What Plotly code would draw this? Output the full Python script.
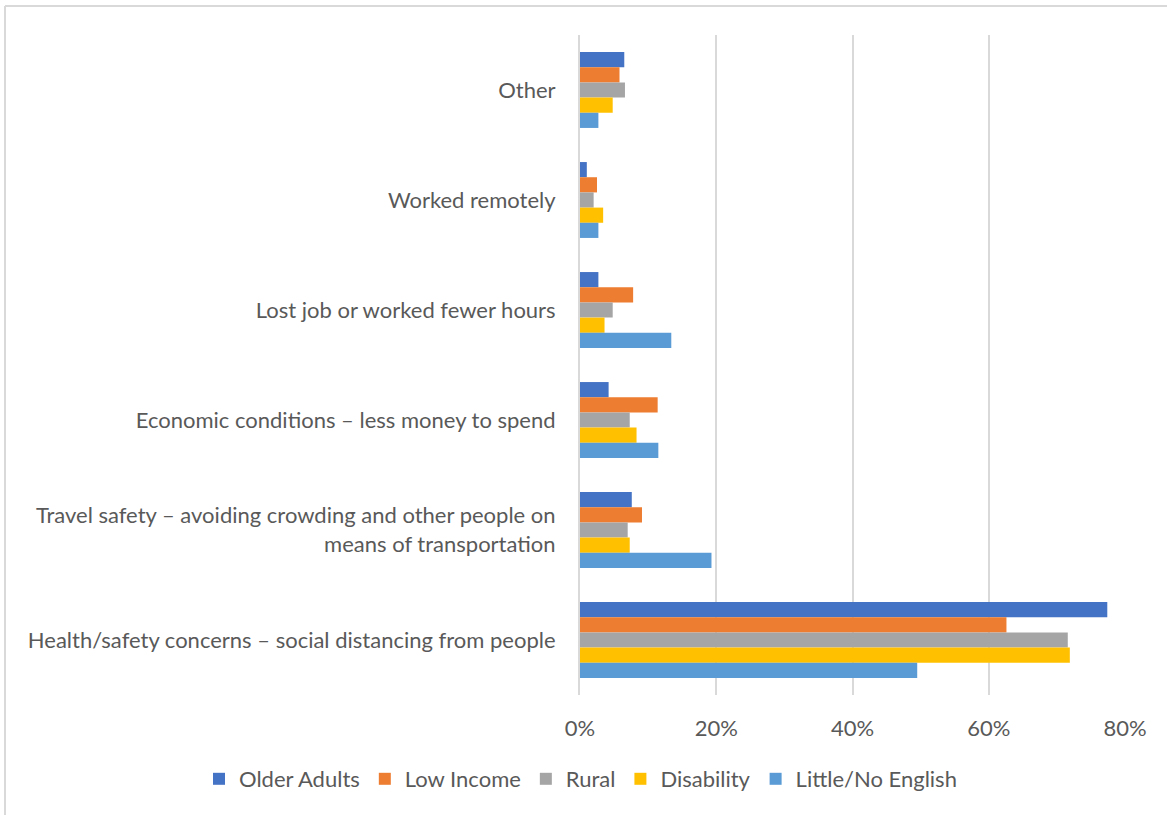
import plotly.graph_objects as go

# Reasons for travelling less, by survey group (share of respondents)
categories = [
    "Other",
    "Worked remotely",
    "Lost job or worked fewer hours",
    "Economic conditions – less money to spend",
    "Travel safety – avoiding crowding and other people on<br>means of transportation",
    "Health/safety concerns – social distancing from people",
]

older_adults = [0.065, 0.010, 0.027, 0.042, 0.076, 0.774]
low_income = [0.058, 0.025, 0.078, 0.114, 0.091, 0.626]
rural = [0.066, 0.020, 0.048, 0.073, 0.070, 0.716]
disability = [0.048, 0.034, 0.036, 0.083, 0.073, 0.719]
little_no_english = [0.027, 0.027, 0.134, 0.115, 0.193, 0.495]

series = [
    ("Older Adults", older_adults, "#4472C4"),
    ("Low Income", low_income, "#ED7D31"),
    ("Rural", rural, "#A5A5A5"),
    ("Disability", disability, "#FFC000"),
    ("Little/No English", little_no_english, "#5B9BD5"),
]

tick_vals = [0, 0.2, 0.4, 0.6, 0.8]
tick_text = ["0%", "20%", "40%", "60%", "80%"]

W, H = 1167, 816
ML, MR, MT, MB = 580, 42, 35, 121
FONT = "Lato"
FS = 22
TEXT = "#595959"
GRID = "#D9D9D9"

fig = go.Figure()
for name, vals, color in series:
    fig.add_trace(go.Bar(
        name=name,
        y=categories,
        x=vals,
        orientation="h",
        marker=dict(color=color, line=dict(width=0)),
    ))

# outer chart frame, positioned in paper units from pixel edges
pw, ph = W - ML - MR, H - MT - MB
def px_x(p):
    return (p - ML) / pw
def px_y(p):
    return 1 - (p - MT) / ph

fig.add_shape(type="line", xref="paper", yref="paper",
              x0=px_x(5), x1=px_x(1167), y0=px_y(6), y1=px_y(6),
              line=dict(color=GRID, width=2), layer="below")
fig.add_shape(type="line", xref="paper", yref="paper",
              x0=px_x(5), x1=px_x(5), y0=px_y(6), y1=px_y(815),
              line=dict(color=GRID, width=2), layer="below")

fig.update_layout(
    width=W, height=H,
    margin=dict(l=ML, r=MR, t=MT, b=MB, pad=0),
    paper_bgcolor="white",
    plot_bgcolor="white",
    barmode="group",
    bargap=0.31,
    bargroupgap=0,
    font=dict(family=FONT, size=FS, color=TEXT),
    xaxis=dict(
        range=[0, 0.8],
        tickvals=tick_vals,
        ticktext=tick_text,
        showgrid=True,
        gridcolor=GRID,
        gridwidth=2,
        zeroline=False,
        showline=False,
        ticks="",
        ticklabelstandoff=18,
        tickfont=dict(family=FONT, size=FS, color=TEXT),
        fixedrange=True,
    ),
    yaxis=dict(
        categoryorder="array",
        categoryarray=categories,
        autorange="reversed",
        showgrid=False,
        zeroline=False,
        showline=True,
        linecolor=GRID,
        linewidth=2,
        ticks="",
        ticklabelstandoff=18,
        tickfont=dict(family=FONT, size=FS, color=TEXT),
    ),
    legend=dict(
        orientation="h",
        x=px_x(199), xanchor="left",
        y=px_y(779), yanchor="middle",
        font=dict(family=FONT, size=FS, color=TEXT),
        traceorder="normal",
        itemclick=False,
        itemwidth=30,
    ),
    showlegend=True,
)

fig.write_html("out.html")
